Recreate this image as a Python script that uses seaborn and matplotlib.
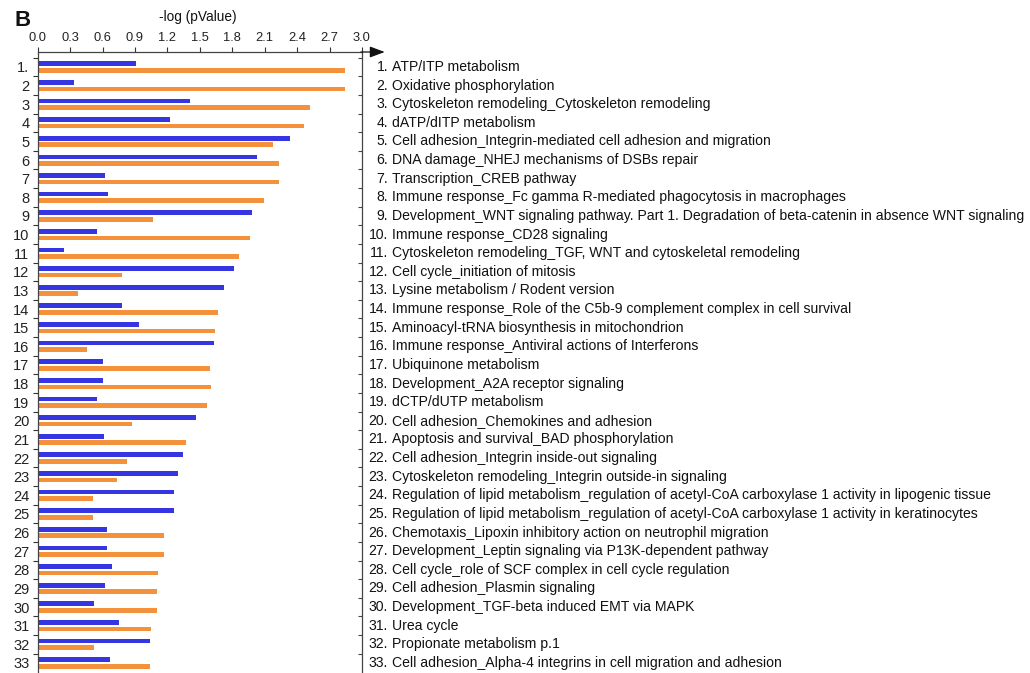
import matplotlib
matplotlib.use("Agg")
import matplotlib.pyplot as plt
import matplotlib.transforms as mtransforms
from matplotlib.ticker import FixedLocator
import numpy as np
import pandas as pd
import seaborn as sns

# ---- data -------------------------------------------------------------
pathways = [
    "ATP/ITP metabolism",
    "Oxidative phosphorylation",
    "Cytoskeleton remodeling_Cytoskeleton remodeling",
    "dATP/dITP metabolism",
    "Cell adhesion_Integrin-mediated cell adhesion and migration",
    "DNA damage_NHEJ mechanisms of DSBs repair",
    "Transcription_CREB pathway",
    "Immune response_Fc gamma R-mediated phagocytosis in macrophages",
    "Development_WNT signaling pathway. Part 1. Degradation of beta-catenin in absence WNT signaling",
    "Immune response_CD28 signaling",
    "Cytoskeleton remodeling_TGF, WNT and cytoskeletal remodeling",
    "Cell cycle_initiation of mitosis",
    "Lysine metabolism / Rodent version",
    "Immune response_Role of the C5b-9 complement complex in cell survival",
    "Aminoacyl-tRNA biosynthesis in mitochondrion",
    "Immune response_Antiviral actions of Interferons",
    "Ubiquinone metabolism",
    "Development_A2A receptor signaling",
    "dCTP/dUTP metabolism",
    "Cell adhesion_Chemokines and adhesion",
    "Apoptosis and survival_BAD phosphorylation",
    "Cell adhesion_Integrin inside-out signaling",
    "Cytoskeleton remodeling_Integrin outside-in signaling",
    "Regulation of lipid metabolism_regulation of acetyl-CoA carboxylase 1 activity in lipogenic tissue",
    "Regulation of lipid metabolism_regulation of acetyl-CoA carboxylase 1 activity in keratinocytes",
    "Chemotaxis_Lipoxin inhibitory action on neutrophil migration",
    "Development_Leptin signaling via P13K-dependent pathway",
    "Cell cycle_role of SCF complex in cell cycle regulation",
    "Cell adhesion_Plasmin signaling",
    "Development_TGF-beta induced EMT via MAPK",
    "Urea cycle",
    "Propionate metabolism p.1",
    "Cell adhesion_Alpha-4 integrins in cell migration and adhesion",
]

row_labels = ["1."] + [str(i) for i in range(2, 34)]

set1_values = [0.91, 0.34, 1.41, 1.22, 2.33, 2.03, 0.62, 0.65, 1.98, 0.55,
               0.24, 1.82, 1.72, 0.78, 0.94, 1.63, 0.60, 0.60, 0.55, 1.46,
               0.61, 1.34, 1.30, 1.26, 1.26, 0.64, 0.64, 0.69, 0.62, 0.52,
               0.75, 1.04, 0.67]

set2_values = [2.84, 2.84, 2.52, 2.46, 2.18, 2.23, 2.23, 2.09, 1.07, 1.96,
               1.86, 0.78, 0.37, 1.67, 1.64, 0.46, 1.59, 1.60, 1.57, 0.87,
               1.37, 0.83, 0.73, 0.51, 0.51, 1.17, 1.17, 1.11, 1.10, 1.10,
               1.05, 0.52, 1.04]

x_ticks = [0.0, 0.3, 0.6, 0.9, 1.2, 1.5, 1.8, 2.1, 2.4, 2.7, 3.0]
x_tick_labels = ["0.0", "0.3", "0.6", "0.9", "1.2", "1.5", "1.8", "2.1", "2.4", "2.7", "3.0"]

series_names = ["Set 1", "Set 2"]
series_colors = ["#3535e2", "#f5913a"]

# ---- long-form table --------------------------------------------------
n = len(pathways)
df = pd.DataFrame({
    "row": row_labels * 2,
    "value": set1_values + set2_values,
    "series": [series_names[0]] * n + [series_names[1]] * n,
})

# ---- figure -----------------------------------------------------------
sns.set_theme(style="white")
plt.rcParams["font.family"] = ["Liberation Sans", "DejaVu Sans"]

W, H = 1030, 673
fig = plt.figure(figsize=(W / 100, H / 100), dpi=100)
ax = fig.add_axes([37.7 / W, 0.0, (362 - 37.7) / W, 1 - 52 / H])

sns.barplot(data=df, x="value", y="row", hue="series", orient="h",
            order=row_labels, hue_order=series_names,
            palette=dict(zip(series_names, series_colors)),
            width=0.70, gap=0.28, dodge=True, legend=False,
            errorbar=None, saturation=1, linewidth=0, ax=ax)

ax.set_xlim(0, 3.0)
ax.set_ylim(32.54, -0.805)

# x axis on top
ax.xaxis.set_ticks_position("top")
ax.xaxis.set_label_position("top")
ax.set_xticks(x_ticks)
ax.set_xticklabels(x_tick_labels, fontsize=9.3, color="#222222")
ax.tick_params(axis="x", which="major", direction="out", length=3.5,
               width=0.8, color="#333333", pad=2.5, top=True, bottom=False)
ax.set_xlabel("")
ax.set_ylabel("")

# y axis: labels at row centres, short ticks on row boundaries
ax.set_yticks(np.arange(n))
ax.set_yticklabels(row_labels, fontsize=10.5, color="#222222")
ax.tick_params(axis="y", which="major", length=0, pad=6)
ax.yaxis.set_minor_locator(FixedLocator(np.arange(n) - 0.5))
ax.tick_params(axis="y", which="minor", direction="out", length=3.5,
               width=0.8, color="#333333", left=True, right=False)

for side in ("left", "right", "top"):
    ax.spines[side].set_visible(True)
    ax.spines[side].set_color("#444444")
    ax.spines[side].set_linewidth(0.9)
ax.spines["bottom"].set_visible(False)

# inward ticks on the right-hand frame line
axr = ax.twinx()
axr.set_ylim(ax.get_ylim())
axr.yaxis.set_major_locator(FixedLocator([]))
axr.yaxis.set_minor_locator(FixedLocator(np.arange(n) - 0.5))
axr.tick_params(axis="y", which="minor", direction="in", length=3,
                width=0.8, color="#444444", right=True, left=False)
for side in ("left", "right", "top", "bottom"):
    axr.spines[side].set_visible(False)

# arrow continuing the value axis
ax.annotate("", xy=(3.21, -0.805), xytext=(2.99, -0.805),
            xycoords="data", textcoords="data", annotation_clip=False,
            arrowprops=dict(arrowstyle="-|>,head_length=0.75,head_width=0.28",
                            color="#111111", lw=0.9, shrinkA=0, shrinkB=0))

# pathway names to the right of the frame
tr = mtransforms.blended_transform_factory(fig.transFigure, ax.transData)
for i, name in enumerate(pathways):
    ax.text(388 / W, i, f"{i + 1}.", transform=tr, ha="right", va="center",
            fontsize=10.05, color="#111111", clip_on=False)
    ax.text(391.5 / W, i, name, transform=tr, ha="left", va="center",
            fontsize=10.05, color="#111111", clip_on=False)

# axis title and panel letter
fig.text(198 / W, 1 - 17.5 / H, "-log (pValue)", ha="center", va="center",
         fontsize=9.8, color="#111111")
fig.text(14 / W, 1 - 21 / H, "B", ha="left", va="center",
         fontsize=16, fontweight="bold", color="#111111")

fig.savefig("out.png", dpi=100, facecolor="white")
